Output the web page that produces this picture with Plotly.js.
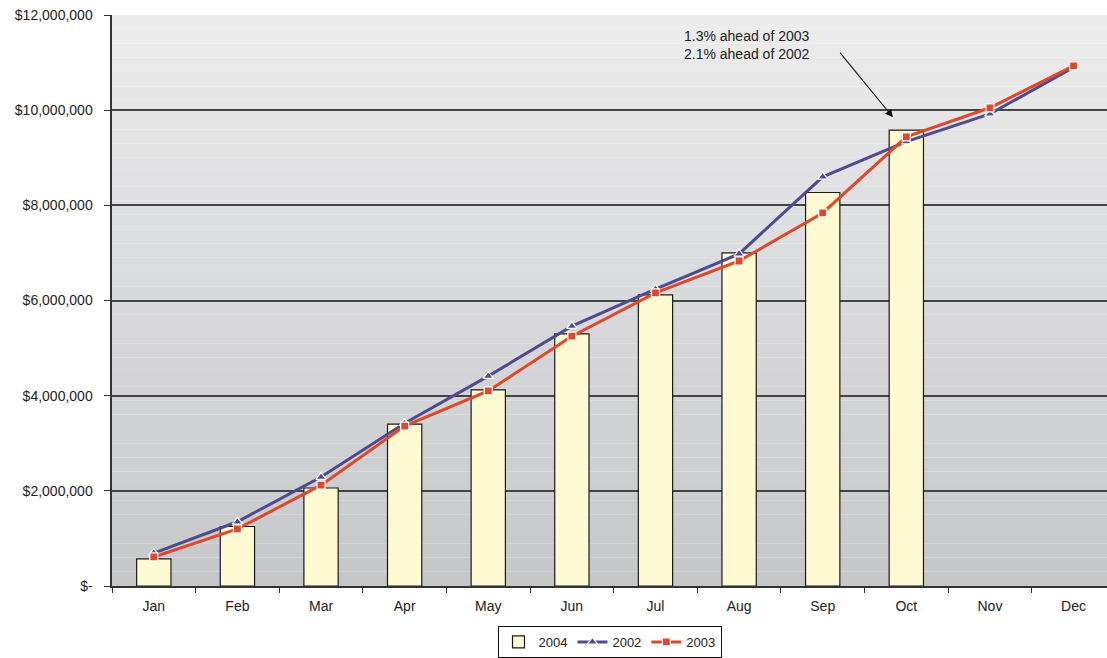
<!DOCTYPE html>
<html><head><meta charset="utf-8">
<script src="https://cdn.plot.ly/plotly-3.0.1.min.js"></script>
<style>html,body{margin:0;padding:0;background:#fff;}#chart{width:1107px;height:658px;}</style>
</head><body><div id="chart"></div>
<script>
const months = ["Jan","Feb","Mar","Apr","May","Jun","Jul","Aug","Sep","Oct","Nov","Dec"];
const sales2004 = [570000,1250000,2060000,3400000,4120000,5300000,6120000,7000000,8270000,9580000,null,null];
const sales2002 = [690000,1350000,2290000,3420000,4410000,5460000,6240000,6980000,8600000,9340000,9920000,10900000];
const sales2003 = [610000,1200000,2120000,3360000,4100000,5250000,6160000,6830000,7840000,9440000,10050000,10930000];
const yTickVals = [0,2000000,4000000,6000000,8000000,10000000,12000000];
const yTickText = ["$-","$2,000,000","$4,000,000","$6,000,000","$8,000,000","$10,000,000","$12,000,000"];
const noteText = "1.3% ahead of 2003<br>2.1% ahead of 2002";

// gradient background bands
const shapes = [];
const N = 40;
const c0 = [236,236,237], c1 = [198,199,201];
for (let i = 0; i < N; i++) {
  const t = (i + 0.5) / N;
  const c = c0.map((v, k) => Math.round(v + (c1[k] - v) * t));
  shapes.push({type:"rect", xref:"paper", yref:"paper", x0:0, x1:1, y0:1 - (i+1)/N, y1:1 - i/N,
    fillcolor:`rgb(${c.join(",")})`, line:{width:0}, layer:"below"});
}

const traces = [
  {type:"bar", name:"2004", x:months, y:sales2004, width:0.41,
   marker:{color:"#fffad2", line:{color:"#1a1a1a", width:1.2}}, hoverinfo:"y"},
  {type:"scatter", mode:"lines+markers", name:"2002", x:months, y:sales2002,
   line:{color:"#4e4c8e", width:3},
   marker:{symbol:"triangle-up", size:9, color:"#4e4c8e", line:{color:"#ffffff", width:1.2}}},
  {type:"scatter", mode:"lines+markers", name:"2003", x:months, y:sales2003,
   line:{color:"#e0472b", width:3},
   marker:{symbol:"square", size:8, color:"#e0472b", line:{color:"#ffffff", width:1.2}}}
];

const layout = {
  width:1107, height:658,
  margin:{l:112, r:0, t:15, b:72, autoexpand:false},
  paper_bgcolor:"#ffffff", plot_bgcolor:"rgba(0,0,0,0)",
  font:{family:"Liberation Sans, Arial, sans-serif", size:14, color:"#222"},
  showlegend:true,
  legend:{orientation:"h", x:0.5, xanchor:"center", y:-0.07, yanchor:"top",
    bordercolor:"#111", borderwidth:1, bgcolor:"#ffffff", font:{size:13, color:"#222"},
    tracegroupgap:0},
  xaxis:{type:"category", range:[-0.5, 11.4], tickson:"boundaries", ticks:"outside", ticklen:5,
    ticklabelstandoff:6, automargin:false,
    tickcolor:"#333", showline:true, linecolor:"#333", linewidth:2, showgrid:false, zeroline:false,
    tickfont:{size:14, color:"#222"}, fixedrange:true},
  yaxis:{range:[0,12000000], tickvals:yTickVals, ticktext:yTickText, ticks:"outside", ticklen:6,
    ticklabelstandoff:8, automargin:false,
    tickcolor:"#333", showline:true, linecolor:"#333", linewidth:2.5, showgrid:true,
    gridcolor:"#444444", gridwidth:2, zeroline:false, tickfont:{size:14, color:"#222"}, fixedrange:true},
  shapes:shapes,
  annotations:[
    {xref:"x", yref:"y", x:7.1, y:11370000, text:noteText, showarrow:false,
     font:{size:14, color:"#222"}, align:"center"},
    {xref:"x", yref:"y", x:8.84, y:9850000, text:"", showarrow:true, arrowhead:2, arrowsize:1.4,
     arrowwidth:1.1, arrowcolor:"#111", ax:-54, ay:-66, standoff:0}
  ]
};

Plotly.newPlot("chart", traces, layout, {displayModeBar:false, staticPlot:true});
</script></body></html>
